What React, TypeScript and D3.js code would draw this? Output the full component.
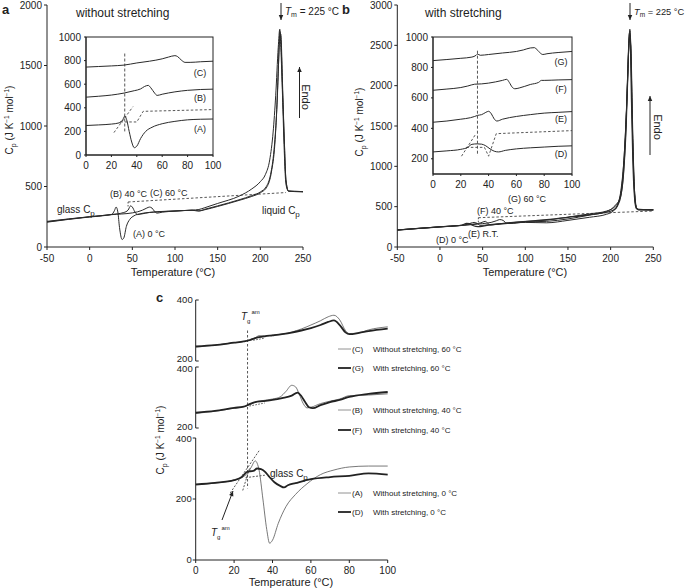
import React from 'react';
import * as d3 from 'd3';

const FONT = "'Liberation Sans', Arial, Helvetica, sans-serif";

// ---------- Panel a (without stretching) main ----------
const aT_A = [-50,-25,0,20,26,29,31,33,35,38,40,43,47,52,60,70,80,100,120,128,135,150,175,190,200,207,212,216,219,221,223,224.5,226,228,230,233,240,250];
const aCp_A = [205,228,248,262,270,300,330,290,160,62,75,170,228,258,276,286,292,298,303,298,312,340,390,425,455,500,600,800,1100,1450,1780,1650,1300,900,550,462,458,455];
const aT_B = [-50,-25,0,25,40,45,48,50,53,56,60,70,80,100,120,128,135,150,175,190,200,206,211,215,218,221,222.8,224,226,228,230,233,240,250];
const aCp_B = [212,232,250,268,285,305,340,330,290,268,272,285,290,298,305,310,325,360,420,480,540,600,720,950,1250,1650,1800,1650,1250,800,520,462,460,458];
const aT_C = [-50,-25,0,25,50,62,67,70,73,76,79,85,100,120,128,135,150,175,190,200,208,213,217,220,222.5,224,226,228,230,233,240,250];
const aCp_C = [208,230,250,267,282,305,322,330,322,295,280,288,296,304,298,308,335,385,418,448,500,620,850,1250,1700,1760,1350,900,560,462,460,458];
const aLiquidT = [45,230];
const aLiquidCp = [372,450];
const aYTicks = [0,500,1000,1500,2000];
const xTicksMain = [-50,0,50,100,150,200,250];

// ---------- Panel a inset ----------
const iaT_A = [0,10,20,26,29,30.5,32,34,36,38,40,43,47,52,60,70,80,90,100];
const iaCp_A = [250,255,262,272,300,330,300,200,110,62,75,140,200,235,265,285,298,303,305];
const iaT_B = [0,10,20,30,38,43,46,49,51,54,56,60,70,80,90,100];
const iaCp_B = [490,498,508,525,545,560,580,590,570,525,505,515,535,548,555,558];
const iaT_C = [0,10,20,30,40,50,60,65,70,72,75,78,82,90,100];
const iaCp_C = [745,750,755,762,780,795,815,830,842,835,805,785,785,790,795];
const iaVertT = [30.5,30.5];
const iaVertCp = [860,200];
const iaDiagT = [22,37];
const iaDiagCp = [190,410];
const iaGlassT = [27,40,45,100];
const iaGlassCp = [280,280,370,385];
const iaYTicks = [0,200,400,600,800,1000];
const insetXTicks = [0,20,40,60,80,100];

// ---------- Panel b (with stretching) main ----------
const bT_D = [-50,-25,0,25,28,31,35,38,42,47,55,70,100,125,150,175,195,203,208,212,215,218,220,221.8,223,224.5,226,228,230,233,240,250];
const bCp_D = [210,230,250,268,282,292,290,270,255,252,268,285,315,338,368,400,432,455,510,640,900,1450,2100,2600,2550,1800,1100,620,480,462,460,462];
const bT_E = [-50,0,25,32,36,40,44,47,52,60,80,100,125,150,175,195,203,208,212,216,219,221,222.5,224,226,228,230,233,250];
const bCp_E = [212,250,268,280,295,305,290,268,270,280,295,305,300,330,368,405,445,520,700,1150,1800,2400,2700,2300,1300,700,490,462,460];
const bT_F = [-50,0,25,40,48,53,56,59,65,75,100,125,150,175,195,205,210,214,217,220,222,223.5,225,227,229,232,250];
const bCp_F = [211,250,268,285,300,318,295,272,280,295,318,335,370,410,445,500,580,850,1350,2100,2650,2500,1700,900,540,465,461];
const bT_G = [-50,0,25,50,60,66,70,74,78,82,90,100,125,150,175,195,203,207,211,215,218,220.5,222.5,224,226,228,231,250];
const bCp_G = [210,250,268,290,305,325,340,330,295,292,298,310,318,348,395,438,490,535,600,900,1500,2300,2680,2400,1400,700,470,460];
const bLiquidT = [45,250];
const bLiquidCp = [363,446];
const bYTicks = [0,500,1000,1500,2000,2500,3000];

// ---------- Panel b inset ----------
const ibT_D = [0,10,20,25,28,32,35,38,41,44,47,52,60,70,80,90,100];
const ibCp_D = [245,252,262,275,295,298,296,285,265,250,245,255,265,272,277,282,285];
const ibT_E = [0,10,20,27,30,32,35,38,40,42,44,46,50,60,70,80,90,100];
const ibCp_E = [440,448,460,470,478,485,490,505,512,495,462,448,460,478,490,500,505,510];
const ibT_F = [0,10,20,25,30,35,40,45,50,53,55,57,59,62,70,76,78,80,90,100];
const ibCp_F = [650,658,668,678,690,692,697,705,715,722,700,670,660,665,688,702,715,715,718,720];
const ibT_G = [0,10,20,28,31,32,34,40,50,60,65,70,73,76,79,82,90,100];
const ibCp_G = [845,852,860,868,880,888,880,885,895,905,915,928,930,905,885,890,898,905];
const ibVertT = [32,32];
const ibVertCp = [910,220];
const ibDiagT = [20.5,31];
const ibDiagCp = [217,366];
const ibGlassT = [24,37,40,45.5,100];
const ibGlassCp = [275,275,217,365,385];
const ibYTicks = [200,400,600,800,1000];

// ---------- Panel c ----------
const cT_C = [0,10,20,25,28,31,33,36,40,45,50,55,60,65,69,72,75,78,80,85,90,100];
const cCp_C = [245,252,260,264,270,276,283,282,285,288,295,305,318,332,345,350,335,300,290,292,302,312];
const cT_G = [0,10,20,25,28,31,33,36,40,45,50,55,60,65,69,72,75,78,80,85,90,100];
const cCp_G = [248,252,260,264,268,275,278,281,284,288,293,300,308,318,328,333,318,294,288,292,298,306];
const cT_B = [0,10,20,25,28,31,35,40,44,47,50,52,54,56,58,60,65,70,75,80,90,100];
const cCp_B = [248,255,265,270,276,285,290,295,302,320,340,335,310,280,266,268,280,288,295,306,308,312];
const cT_F = [0,10,20,25,28,31,35,40,45,50,53,55,57,59,61,65,70,75,80,90,100];
const cCp_F = [250,256,266,270,278,285,288,292,298,306,316,305,285,268,265,275,285,292,302,312,318];
const cT_A = [0,10,20,24,27,29,31,33,35,37,38.5,40,43,47,52,58,65,72,80,90,100];
const cCp_A = [246,252,262,270,285,305,325,295,200,100,55,65,120,175,215,250,280,295,305,308,308];
const cT_D = [0,10,20,24,27,30,32,34,36,38,41,44,46,48,52,60,70,80,90,100];
const cCp_D = [248,253,262,272,290,292,300,298,290,275,255,243,238,245,252,265,272,276,284,280];
const cDiag1T = [18,33];
const cDiag1Cp = [220,358];
const cDiag2T = [24.5,28];
const cDiag2Cp = [228,300];
const cGlassT = [26,36];
const cGlassCp = [270,278];
const cTopGlassT = [30,36];
const cTopGlassCp = [268,275];
const cMidGlassT = [28,36];
const cMidGlassCp = [272,282];
const cXTicks = [0,20,40,60,80,100];
const legendCodes = ['(C)','(G)','(B)','(F)','(A)','(D)'];
const legendTexts = ['Without stretching, 60 °C','With stretching, 60 °C','Without stretching, 40 °C','With stretching, 40 °C','Without stretching, 0 °C','With stretching, 0 °C'];
const legendThick = [false,true,false,true,false,true];

type Sc = d3.ScaleLinear<number, number>;

function zip(t: number[], v: number[]): [number, number][] {
  return t.map((x, i) => [x, v[i]] as [number, number]);
}

function Curve({ x, y, t, v, w = 1, color = '#2a2a2a', dash, smooth = true }: { x: Sc; y: Sc; t: number[]; v: number[]; w?: number; color?: string; dash?: string; smooth?: boolean }) {
  const line = d3.line<[number, number]>().x(d => x(d[0])).y(d => y(d[1]));
  if (smooth) line.curve(d3.curveMonotoneX);
  return <path d={line(zip(t, v)) || ''} fill="none" stroke={color} strokeWidth={w} strokeDasharray={dash} strokeLinejoin="round" />;
}

function YAxis({ y, x0, ticks, fs = 10, dir = -1, len = 3, labelGap = 2, showLabels = true, labelShift = {} }: { y: Sc; x0: number; ticks: number[]; fs?: number; dir?: number; len?: number; labelGap?: number; showLabels?: boolean; labelShift?: Record<number, number> }) {
  const [d0, d1] = y.domain();
  return (
    <g>
      <line x1={x0} x2={x0} y1={y(d0)} y2={y(d1)} stroke="#222" strokeWidth={1} />
      {ticks.map(t => (
        <g key={t}>
          <line x1={x0} x2={x0 + dir * len} y1={y(t)} y2={y(t)} stroke="#222" strokeWidth={1} />
          {showLabels && (
            <text x={x0 - (dir < 0 ? len : 0) - labelGap} y={y(t) + (labelShift[t] || 0)} dy="0.35em" textAnchor="end" fontSize={fs} fontFamily={FONT} fill="#222">{t}</text>
          )}
        </g>
      ))}
    </g>
  );
}

function XAxis({ x, y0, ticks, fs = 10, len = 3, gap = 11 }: { x: Sc; y0: number; ticks: number[]; fs?: number; len?: number; gap?: number }) {
  const [d0, d1] = x.domain();
  return (
    <g>
      <line x1={x(d0)} x2={x(d1)} y1={y0} y2={y0} stroke="#222" strokeWidth={1} />
      {ticks.map(t => (
        <g key={t}>
          <line x1={x(t)} x2={x(t)} y1={y0} y2={y0 + len} stroke="#222" strokeWidth={1} />
          <text x={x(t)} y={y0 + gap} dy="0.35em" textAnchor="middle" fontSize={fs} fontFamily={FONT} fill="#222">{t}</text>
        </g>
      ))}
    </g>
  );
}

function CpLabel({ cx, cy, fs = 10 }: { cx: number; cy: number; fs?: number }) {
  return (
    <text transform={`translate(${cx},${cy}) rotate(-90)`} textAnchor="middle" fontSize={fs} fontFamily={FONT} fill="#222">
      C<tspan fontSize={fs * 0.7} dy="3">p</tspan>
      <tspan dy="-3"> (J K</tspan>
      <tspan fontSize={fs * 0.65} dy="-4">−1</tspan>
      <tspan dy="4"> mol</tspan>
      <tspan fontSize={fs * 0.65} dy="-4">−1</tspan>
      <tspan dy="4">)</tspan>
    </text>
  );
}

function Arrow({ x1, y1, x2, y2, head = 4 }: { x1: number; y1: number; x2: number; y2: number; head?: number }) {
  const ang = Math.atan2(y2 - y1, x2 - x1);
  const hx1 = x2 - head * Math.cos(ang) + (head * 0.45) * Math.sin(ang);
  const hy1 = y2 - head * Math.sin(ang) - (head * 0.45) * Math.cos(ang);
  const hx2 = x2 - head * Math.cos(ang) - (head * 0.45) * Math.sin(ang);
  const hy2 = y2 - head * Math.sin(ang) + (head * 0.45) * Math.cos(ang);
  return (
    <g>
      <line x1={x1} y1={y1} x2={x2} y2={y2} stroke="#222" strokeWidth={1} />
      <path d={`M${x2},${y2}L${hx1},${hy1}L${hx2},${hy2}Z`} fill="#222" />
    </g>
  );
}

function TmLabel({ x, y, fs = 10 }: { x: number; y: number; fs?: number }) {
  return (
    <text x={x} y={y} fontSize={fs} fontFamily={FONT} fill="#222">
      <tspan fontStyle="italic" fill="#222">T</tspan>
      <tspan fontSize={fs * 0.7} dy="2" fill="#222">m</tspan>
      <tspan dy="-2" fill="#222"> = 225 °C</tspan>
    </text>
  );
}

function TgLabel({ x, y }: { x: number; y: number }) {
  return (
    <text x={x} y={y} fontSize={10} fontFamily={FONT} fill="#222">
      <tspan fontStyle="italic">T</tspan>
      <tspan fontSize={6} dy="3">g</tspan>
      <tspan fontSize={6} dy="-9" dx="1">am</tspan>
    </text>
  );
}

function T({ x, y, children, fs = 9, anchor = 'start', weight = 'normal' }: { x: number; y: number; children: React.ReactNode; fs?: number; anchor?: string; weight?: string }) {
  return <text x={x} y={y} fontSize={fs} fontFamily={FONT} fill="#222" textAnchor={anchor as any} fontWeight={weight}>{children}</text>;
}

function CpText({ x, y, label, fs = 10 }: { x: number; y: number; label: string; fs?: number }) {
  return (
    <text x={x} y={y} fontSize={fs} fontFamily={FONT} fill="#222">
      {label} C<tspan fontSize={fs * 0.8} dy="2.5">p</tspan>
    </text>
  );
}

export default function App() {
  // panel a
  const ax = d3.scaleLinear().domain([-50, 250]).range([47, 303]);
  const ay = d3.scaleLinear().domain([0, 2000]).range([247, 5]);
  const iax = d3.scaleLinear().domain([0, 100]).range([86, 213]);
  const iay = d3.scaleLinear().domain([0, 1000]).range([155, 37]);
  // panel b
  const bx = d3.scaleLinear().domain([-50, 250]).range([397.3, 653.3]);
  const by = d3.scaleLinear().domain([0, 3000]).range([247, 5]);
  const ibx = d3.scaleLinear().domain([0, 100]).range([433, 572]);
  const iby = d3.scaleLinear().domain([100, 1000]).range([174, 37]);
  // panel c
  const cx = d3.scaleLinear().domain([0, 100]).range([195.7, 387.7]);
  const cyTop = d3.scaleLinear().domain([200, 400]).range([361, 300]);
  const cyMid = d3.scaleLinear().domain([200, 400]).range([428, 367]);
  const cyBot = d3.scaleLinear().domain([0, 400]).range([560, 438]);

  const mainW = 1;
  const dash = '2.5,2';
  const legendY = [349, 368, 410, 430, 493, 512];

  return (
    <svg width={685} height={588} style={{ position: 'absolute', left: 0, top: 0, display: 'block', background: '#fff' }}>
      <rect x={0} y={0} width={685} height={588} fill="#fff" />

      {/* ===== Panel a ===== */}
      <T x={2} y={14} fs={13} weight="bold">a</T>
      <T x={76} y={17} fs={12}>without stretching</T>
      <Arrow x1={281} y1={3} x2={281} y2={20} head={5} />
      <TmLabel x={285} y={15} />
      <Arrow x1={299.5} y1={118} x2={299.5} y2={67} head={5} />
      <text transform="translate(302,97) rotate(90)" textAnchor="middle" fontSize={11} fontFamily={FONT} fill="#222">Endo</text>

      <YAxis y={ay} x0={47} ticks={aYTicks} fs={10} />
      <XAxis x={ax} y0={247} ticks={xTicksMain} fs={10} len={3} gap={11} />
      <CpLabel cx={13} cy={120} />
      <T x={173} y={276} fs={11} anchor="middle">Temperature (°C)</T>

      <Curve x={ax} y={ay} t={aLiquidT} v={aLiquidCp} w={0.9} dash={dash} smooth={false} color="#444" />
      <line x1={ax(aLiquidT[0])} x2={ax(aLiquidT[0])} y1={ay(aLiquidCp[0])} y2={ay(aLiquidCp[0]) + 5} stroke="#444" strokeWidth={0.9} strokeDasharray="1.5,1.5" />
      <Curve x={ax} y={ay} t={aT_C} v={aCp_C} w={mainW} />
      <Curve x={ax} y={ay} t={aT_B} v={aCp_B} w={mainW} />
      <Curve x={ax} y={ay} t={aT_A} v={aCp_A} w={mainW} />

      <CpText x={57} y={213} label="glass" />
      <T x={110} y={197} fs={9}>(B) 40 °C</T>
      <T x={150} y={196} fs={9}>(C) 60 °C</T>
      <CpText x={262} y={214} label="liquid" />
      <T x={133} y={237} fs={9}>(A)  0  °C</T>

      {/* inset a */}
      <rect x={86} y={37} width={127} height={118} fill="#fff" stroke="#222" strokeWidth={1} />
      <YAxis y={iay} x0={86} ticks={iaYTicks} fs={10} len={2} labelGap={3} />
      <XAxis x={iax} y0={155} ticks={insetXTicks} fs={10} len={2} gap={10} />
      <Curve x={iax} y={iay} t={iaVertT} v={iaVertCp} w={0.9} dash="3,2" smooth={false} color="#444" />
      <Curve x={iax} y={iay} t={iaDiagT} v={iaDiagCp} w={0.9} dash={dash} smooth={false} color="#444" />
      <Curve x={iax} y={iay} t={iaGlassT} v={iaGlassCp} w={0.9} dash={dash} smooth={false} color="#444" />
      <Curve x={iax} y={iay} t={iaT_C} v={iaCp_C} w={1} />
      <Curve x={iax} y={iay} t={iaT_B} v={iaCp_B} w={1} />
      <Curve x={iax} y={iay} t={iaT_A} v={iaCp_A} w={1} />
      <T x={200} y={76} fs={9} anchor="middle">(C)</T>
      <T x={200} y={101} fs={9} anchor="middle">(B)</T>
      <T x={200} y={132} fs={9} anchor="middle">(A)</T>

      {/* ===== Panel b ===== */}
      <T x={342} y={14} fs={13} weight="bold">b</T>
      <T x={425} y={17} fs={12}>with stretching</T>
      <Arrow x1={630} y1={3} x2={630} y2={20} head={5} />
      <TmLabel x={634} y={15} fs={9.3} />
      <Arrow x1={650} y1={155} x2={650} y2={96} head={5} />
      <text transform="translate(654,127) rotate(90)" textAnchor="middle" fontSize={11} fontFamily={FONT} fill="#222">Endo</text>

      <YAxis y={by} x0={397.3} ticks={bYTicks} fs={10} />
      <XAxis x={bx} y0={247} ticks={xTicksMain} fs={10} len={3} gap={11} />
      <CpLabel cx={363} cy={122} />
      <T x={525} y={276} fs={11} anchor="middle">Temperature (°C)</T>

      <Curve x={bx} y={by} t={bLiquidT} v={bLiquidCp} w={0.9} dash={dash} smooth={false} color="#444" />
      <line x1={bx(bLiquidT[0])} x2={bx(bLiquidT[0])} y1={by(bLiquidCp[0])} y2={by(bLiquidCp[0]) + 5} stroke="#444" strokeWidth={0.9} strokeDasharray="1.5,1.5" />
      <Curve x={bx} y={by} t={bT_G} v={bCp_G} w={mainW} />
      <Curve x={bx} y={by} t={bT_F} v={bCp_F} w={mainW} />
      <Curve x={bx} y={by} t={bT_E} v={bCp_E} w={mainW} />
      <Curve x={bx} y={by} t={bT_D} v={bCp_D} w={mainW * 1.3} />

      <T x={508} y={202} fs={9}>(G) 60 °C</T>
      <T x={477} y={214} fs={9}>(F) 40 °C</T>
      <T x={468} y={237} fs={9}>(E) R.T.</T>
      <T x={436} y={243} fs={9}>(D) 0 °C</T>

      {/* inset b */}
      <rect x={433} y={37} width={139} height={137} fill="#fff" stroke="#222" strokeWidth={1} />
      <YAxis y={iby} x0={433} ticks={ibYTicks} fs={10} len={2} labelGap={3} />
      <XAxis x={ibx} y0={174} ticks={insetXTicks} fs={10} len={2} gap={10} />
      <Curve x={ibx} y={iby} t={ibVertT} v={ibVertCp} w={0.9} dash="3,2" smooth={false} color="#444" />
      <Curve x={ibx} y={iby} t={ibDiagT} v={ibDiagCp} w={0.9} dash={dash} smooth={false} color="#444" />
      <Curve x={ibx} y={iby} t={ibGlassT} v={ibGlassCp} w={0.9} dash={dash} smooth={false} color="#444" />
      <Curve x={ibx} y={iby} t={ibT_G} v={ibCp_G} w={1} />
      <Curve x={ibx} y={iby} t={ibT_F} v={ibCp_F} w={1} />
      <Curve x={ibx} y={iby} t={ibT_E} v={ibCp_E} w={1} />
      <Curve x={ibx} y={iby} t={ibT_D} v={ibCp_D} w={1} />
      <T x={561} y={65} fs={9} anchor="middle">(G)</T>
      <T x={561} y={92} fs={9} anchor="middle">(F)</T>
      <T x={561} y={122} fs={9} anchor="middle">(E)</T>
      <T x={561} y={157} fs={9} anchor="middle">(D)</T>

      {/* ===== Panel c ===== */}
      <T x={156} y={302} fs={13} weight="bold">c</T>
      <YAxis y={cyTop} x0={195.7} ticks={[200, 400]} fs={9.5} dir={1} len={3} labelGap={3} labelShift={{ 200: -2 }} />
      <YAxis y={cyMid} x0={195.7} ticks={[200, 400]} fs={9.5} dir={1} len={3} labelGap={3} labelShift={{ 200: -1, 400: 1.5 }} />
      <YAxis y={cyBot} x0={195.7} ticks={[0, 200, 400]} fs={9.5} dir={-1} len={3} labelGap={1} labelShift={{ 400: 1 }} />
      <XAxis x={cx} y0={560} ticks={cXTicks} fs={10} len={3} gap={10} />
      <CpLabel cx={164} cy={440} />
      <T x={291} y={586} fs={11} anchor="middle">Temperature (°C)</T>

      <line x1={cx(27)} x2={cx(27)} y1={cyTop(300)} y2={cyBot(235)} stroke="#444" strokeWidth={0.9} strokeDasharray="2.5,2" />
      <TgLabel x={241} y={320} />

      <Curve x={cx} y={cyTop} t={cTopGlassT} v={cTopGlassCp} w={0.9} dash="1.5,1.5" smooth={false} color="#444" />
      <Curve x={cx} y={cyTop} t={cT_C} v={cCp_C} w={0.8} color="#555" />
      <Curve x={cx} y={cyTop} t={cT_G} v={cCp_G} w={1.8} color="#222" />

      <Curve x={cx} y={cyMid} t={cMidGlassT} v={cMidGlassCp} w={0.9} dash="1.5,1.5" smooth={false} color="#444" />
      <Curve x={cx} y={cyMid} t={cT_B} v={cCp_B} w={0.8} color="#555" />
      <Curve x={cx} y={cyMid} t={cT_F} v={cCp_F} w={1.8} color="#222" />

      <Curve x={cx} y={cyBot} t={cDiag1T} v={cDiag1Cp} w={0.9} dash="2,1.5" smooth={false} color="#444" />
      <Curve x={cx} y={cyBot} t={cDiag2T} v={cDiag2Cp} w={0.9} dash="2,1.5" smooth={false} color="#444" />
      <Curve x={cx} y={cyBot} t={cGlassT} v={cGlassCp} w={0.9} dash="2,1.5" smooth={false} color="#444" />
      <Curve x={cx} y={cyBot} t={cT_A} v={cCp_A} w={0.8} color="#555" />
      <Curve x={cx} y={cyBot} t={cT_D} v={cCp_D} w={1.8} color="#222" />

      <CpText x={270} y={477} label="glass" />
      <Arrow x1={222} y1={520} x2={233} y2={491} head={5} />
      <TgLabel x={211} y={536} />

      {legendCodes.map((code, i) => (
        <g key={code}>
          <line x1={338} x2={351} y1={legendY[i]} y2={legendY[i]} stroke={legendThick[i] ? '#222' : '#777'} strokeWidth={legendThick[i] ? 1.8 : 0.8} />
          <T x={352} y={legendY[i] + 3} fs={8}>{code}</T>
          <T x={373} y={legendY[i] + 3} fs={8}>{legendTexts[i]}</T>
        </g>
      ))}
    </svg>
  );
}
